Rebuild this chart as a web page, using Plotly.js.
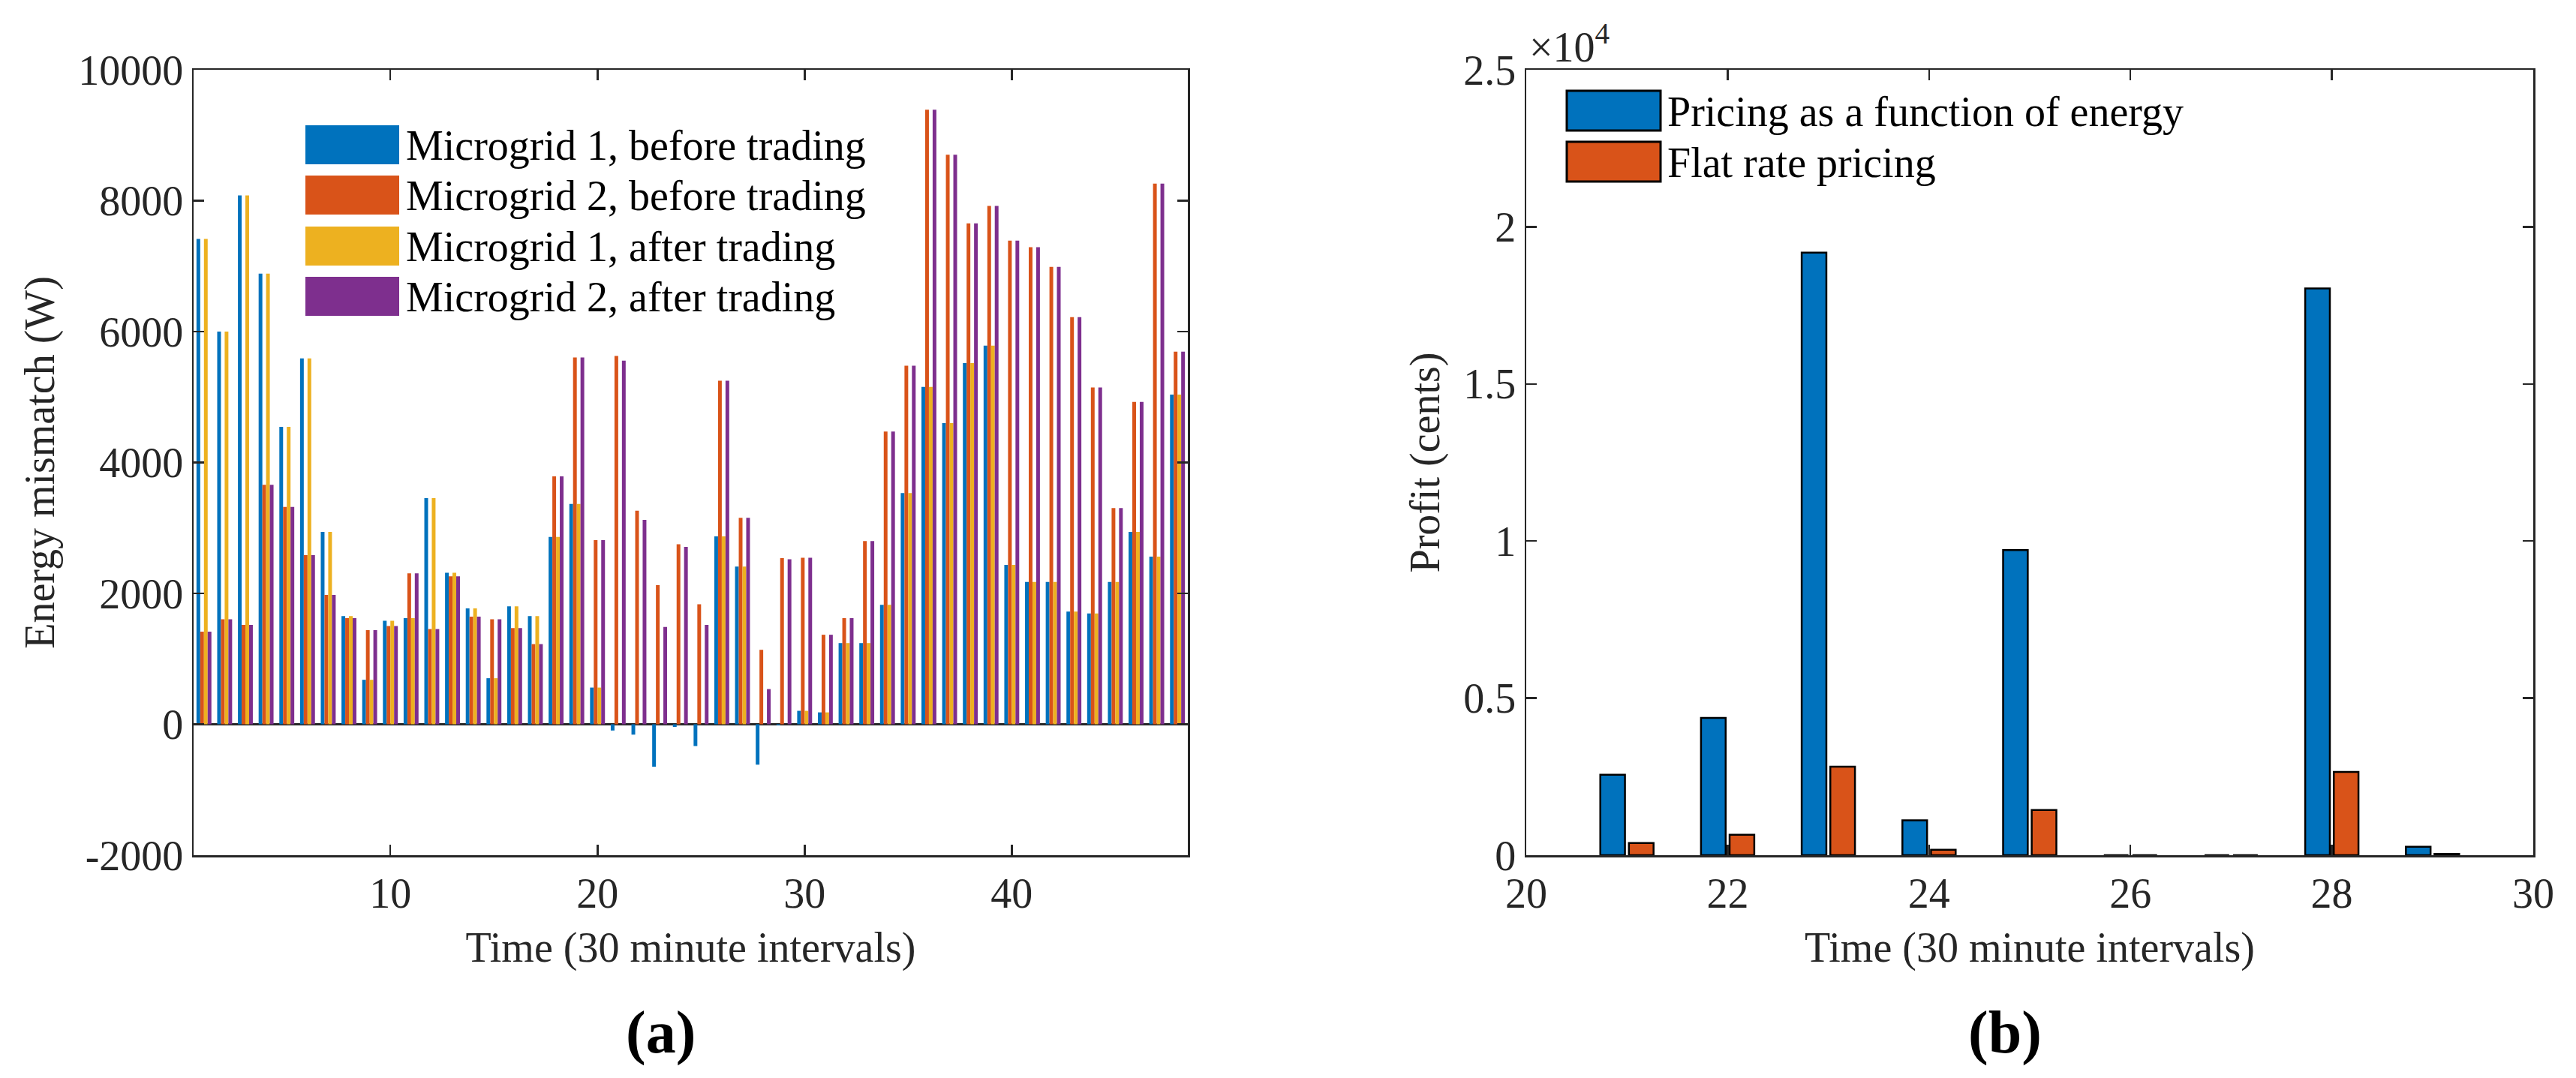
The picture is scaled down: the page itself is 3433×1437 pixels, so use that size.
<!DOCTYPE html>
<html>
<head>
<meta charset="utf-8">
<script src="https://cdn.plot.ly/plotly-3.0.1.min.js"></script>
<style>html,body{margin:0;padding:0;background:#fff;}</style>
</head>
<body>
<div id="chart" style="width:3433px;height:1437px;"></div>
<script>
// ---------- Data: panel (a) ----------
const timeA = [1,2,3,4,5,6,7,8,9,10,11,12,13,14,15,16,17,18,19,20,21,22,23,24,
               25,26,27,28,29,30,31,32,33,34,35,36,37,38,39,40,41,42,43,44,45,46,47,48];
const mg1Before = [7415,6000,8079,6885,4545,5589,2941,1652,680,1581,1621,3455,
                   2316,1771,704,1802,1652,2862,3368,561,-95,-158,-648,-40,
                   -332,2870,2411,-617,-15,206,182,1241,1241,1826,3534,5154,
                   4601,5518,5786,2435,2174,2174,1723,1692,2174,2941,2561,5036];
const mg2Before = [1415,1605,1518,3660,3320,2585,1976,1621,1439,1502,2308,1455,
                   2261,1644,1605,1470,1225,3787,5605,2814,5628,3265,2126,2751,
                   1834,5249,3154,1138,2538,2545,1368,1621,2798,4474,5478,9391,
                   8703,7652,7921,7391,7288,6988,6221,5146,3304,4925,8261,5692];
const mg1After  = [7415,6000,8079,6885,4545,5589,2941,1652,680,1581,1621,3455,
                   2316,1771,704,1802,1652,2862,3368,561,0,0,0,0,
                   0,2870,2411,0,0,206,182,1241,1241,1826,3534,5154,
                   4601,5518,5786,2435,2174,2174,1723,1692,2174,2941,2561,5036];
const mg2After  = [1415,1605,1518,3660,3320,2585,1976,1621,1439,1502,2308,1455,
                   2261,1644,1605,1470,1225,3787,5605,2814,5557,3122,1486,2711,
                   1518,5249,3154,538,2522,2545,1368,1621,2798,4474,5478,9391,
                   8703,7652,7921,7391,7288,6988,6221,5146,3304,4925,8261,5692];
const seriesNamesA = ['Microgrid 1, before trading','Microgrid 2, before trading',
                      'Microgrid 1, after trading','Microgrid 2, after trading'];
const xTicksA = [10,20,30,40];
const yTicksA = [-2000,0,2000,4000,6000,8000,10000];
const yTickTextA = ['-2000','0','2000','4000','6000','8000','10000'];

// ---------- Data: panel (b) ----------
const timeB = [21,22,23,24,25,26,27,28,29];
const profitEnergyPricing = [2560,4370,19180,1110,9710,0,0,18040,270];
const profitFlatRate      = [390,650,2820,175,1440,0,0,2650,40];
const seriesNamesB = ['Pricing as a function of energy','Flat rate pricing'];
const xTicksB = [20,22,24,26,28,30];
const yTicksB = [0,5000,10000,15000,20000,25000];
const yTickTextB = ['0','0.5','1','1.5','2','2.5'];

// ---------- Styling ----------
const W = 3433, H = 1437;
const colors = ['#0072BD','#D95319','#EDB120','#7E2F8E'];
const axisColor = '#262626';
const FONT = 'Liberation Serif, Times New Roman, serif';
const px = v => v / W;          // pixel -> paper x
const py = v => 1 - v / H;      // pixel -> paper y

const seriesA = [mg1Before, mg2Before, mg1After, mg2After];
const offsetsA = [-0.36, -0.18, 0, 0.18];
const traces = seriesA.map((vals, i) => ({
  type: 'bar', x: timeA, y: vals, name: seriesNamesA[i],
  xaxis: 'x', yaxis: 'y',
  width: 0.18, offset: offsetsA[i],
  marker: {color: colors[i], line: {width: 0}},
  showlegend: false
}));
const seriesB = [profitEnergyPricing, profitFlatRate];
const offsetsB = [-0.2645, 0.0195];
seriesB.forEach((vals, i) => traces.push({
  type: 'bar', x: timeB, y: vals, name: seriesNamesB[i],
  xaxis: 'x2', yaxis: 'y2',
  width: 0.245, offset: offsetsB[i],
  marker: {color: colors[i], line: {width: 2.5, color: '#000'}},
  showlegend: false
}));

const tickFont = {family: FONT, size: 56, color: axisColor};
const titleFont = {family: FONT, size: 56, color: axisColor};
const common = {
  showline: true, linecolor: axisColor, linewidth: 2.5, mirror: 'ticks',
  ticks: 'inside', ticklen: 14, tickwidth: 2.5, tickcolor: axisColor,
  showgrid: false, tickfont: tickFont, fixedrange: true
};

const shapes = [];
const annotations = [];
// legend (a)
const legATop = [167, 234, 302, 369];
legATop.forEach((t, i) => {
  shapes.push({type: 'rect', xref: 'paper', yref: 'paper',
    x0: px(407), x1: px(532), y0: py(t + 52), y1: py(t),
    fillcolor: colors[i], line: {width: 0}});
  annotations.push({xref: 'paper', yref: 'paper', x: px(539), y: py(t + 27),
    xanchor: 'left', yanchor: 'middle', showarrow: false,
    text: seriesNamesA[i], font: {family: FONT, size: 56, color: '#000'}});
});
// legend (b)
const legBTop = [121, 189];
legBTop.forEach((t, i) => {
  shapes.push({type: 'rect', xref: 'paper', yref: 'paper',
    x0: px(2088), x1: px(2213), y0: py(t + 53), y1: py(t),
    fillcolor: colors[i], line: {width: 3, color: '#000'}});
  annotations.push({xref: 'paper', yref: 'paper', x: px(2220), y: py(t + 28),
    xanchor: 'left', yanchor: 'middle', showarrow: false,
    text: seriesNamesB[i], font: {family: FONT, size: 56, color: '#000'}});
});
// exponent label
annotations.push({xref: 'paper', yref: 'paper', x: px(2036), y: py(96),
  xanchor: 'left', yanchor: 'bottom', showarrow: false,
  text: '×10<sup>4</sup>', font: {family: FONT, size: 56, color: axisColor}});
// panel labels
annotations.push({xref: 'paper', yref: 'paper', x: px(880), y: py(1376),
  xanchor: 'center', yanchor: 'middle', showarrow: false,
  text: '<b>(a)</b>', font: {family: FONT, size: 80, color: '#000'}});
annotations.push({xref: 'paper', yref: 'paper', x: px(2672), y: py(1376),
  xanchor: 'center', yanchor: 'middle', showarrow: false,
  text: '<b>(b)</b>', font: {family: FONT, size: 80, color: '#000'}});

const layout = {
  width: W, height: H, autosize: false,
  margin: {l: 0, r: 0, t: 0, b: 0},
  paper_bgcolor: '#fff', plot_bgcolor: '#fff',
  barmode: 'overlay', showlegend: false,
  font: {family: FONT, color: axisColor},
  xaxis: Object.assign({}, common, {
    domain: [px(258), px(1583)], anchor: 'y', range: [0.5, 48.5],
    tickvals: xTicksA, zeroline: false,
    title: {text: 'Time (30 minute intervals)', font: titleFont, standoff: 22}
  }),
  yaxis: Object.assign({}, common, {
    domain: [py(1140), py(93)], anchor: 'x', range: [-2000, 10000],
    tickvals: yTicksA, ticktext: yTickTextA,
    zeroline: true, zerolinecolor: axisColor, zerolinewidth: 2.5,
    title: {text: 'Energy mismatch (W)', font: titleFont, standoff: 14}
  }),
  xaxis2: Object.assign({}, common, {
    domain: [px(2034), px(3376)], anchor: 'y2', range: [20, 30],
    tickvals: xTicksB, zeroline: false,
    title: {text: 'Time (30 minute intervals)', font: titleFont, standoff: 22}
  }),
  yaxis2: Object.assign({}, common, {
    domain: [py(1140), py(93)], anchor: 'x2', range: [0, 25000],
    tickvals: yTicksB, ticktext: yTickTextB, zeroline: false,
    title: {text: 'Profit (cents)', font: titleFont, standoff: 14}
  }),
  shapes: shapes,
  annotations: annotations
};

Plotly.newPlot('chart', traces, layout, {staticPlot: true, displayModeBar: false});
</script>
</body>
</html>
